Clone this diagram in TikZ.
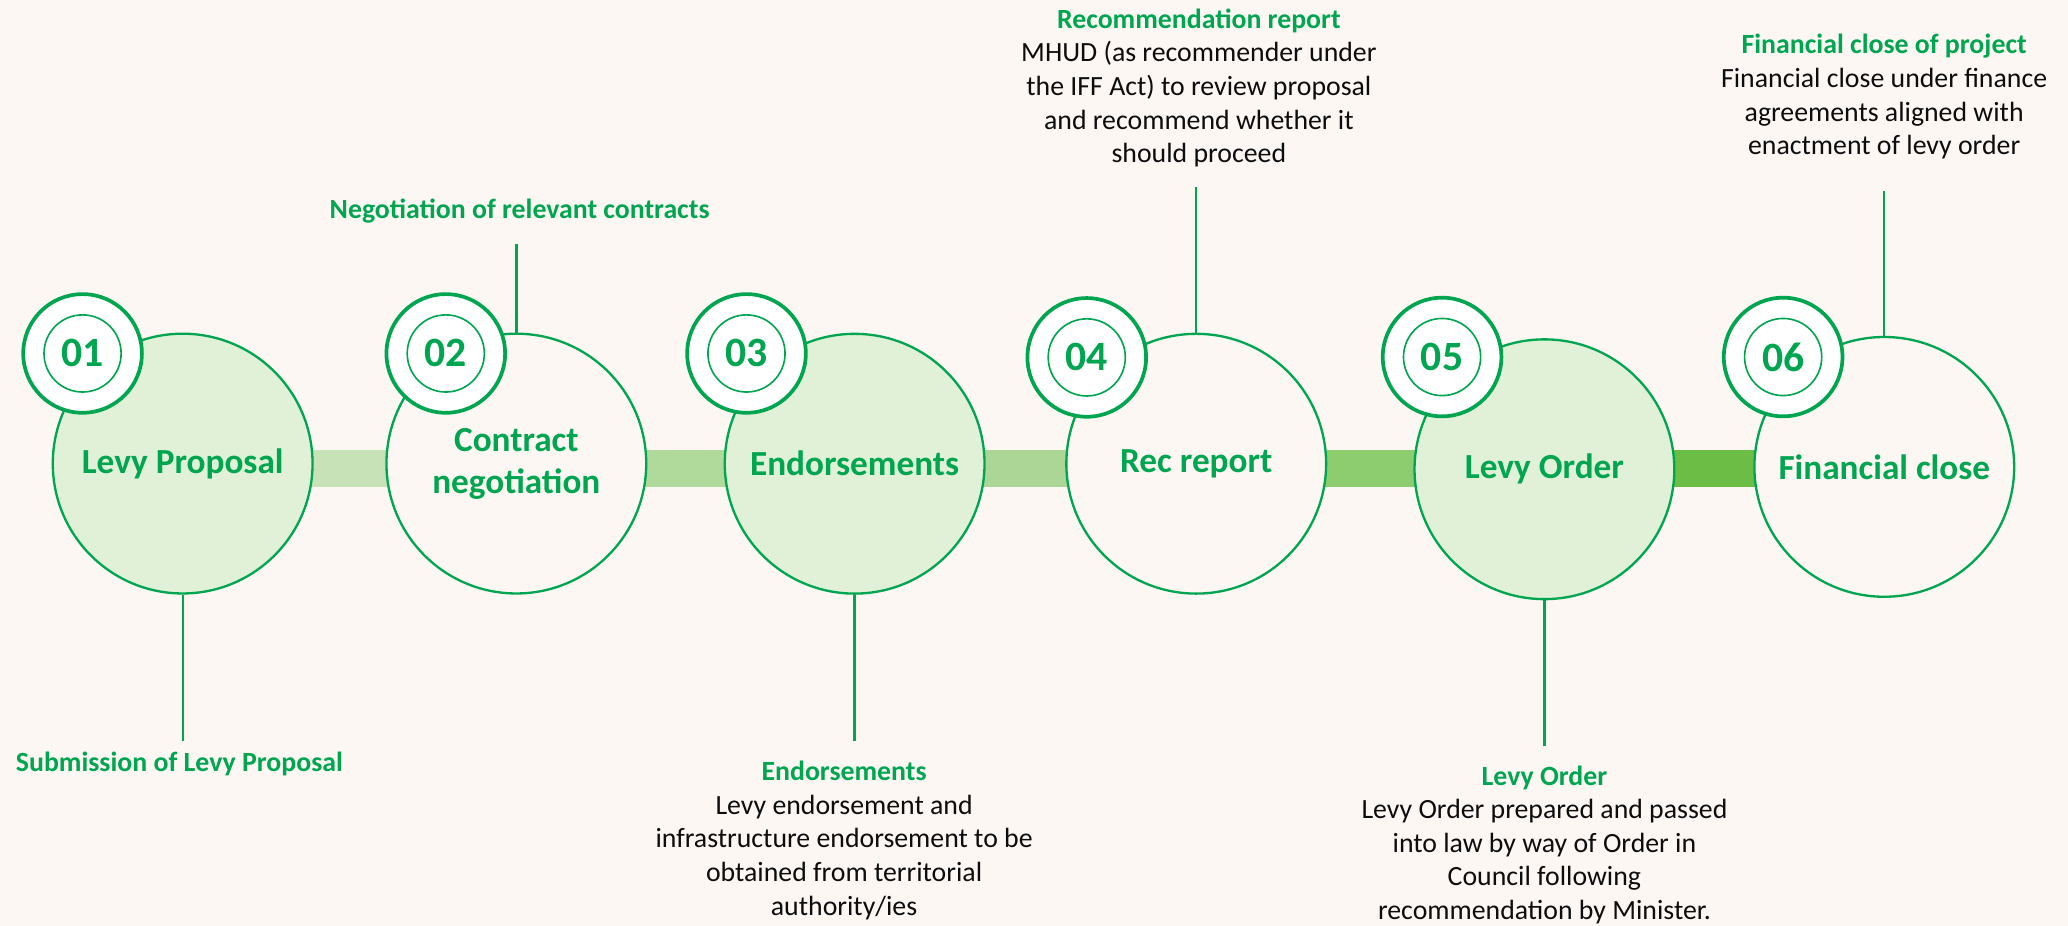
\documentclass[tikz,border=0pt]{standalone}
\usepackage{fontspec}
\setmainfont{Carlito}
\usepackage{xcolor}
\usepackage{tikz}
\usetikzlibrary{backgrounds}
\definecolor{pagecream}{HTML}{FDF7F4}
\definecolor{stagegreen}{HTML}{00A550}
\definecolor{stagefill}{HTML}{E0F1D8}
\definecolor{notetext}{HTML}{0D0D0D}
\definecolor{barA}{HTML}{C6E2B6}
\definecolor{barB}{HTML}{B0D99C}
\definecolor{barC}{HTML}{ABD695}
\definecolor{barD}{HTML}{8ECC70}
\definecolor{barE}{HTML}{6BBD46}
\newcommand{\notehead}[1]{\textcolor{stagegreen}{\bfseries #1}}
\tikzset{
  stage/.style={circle, draw=stagegreen, line width=1pt, minimum size=3.94cm, inner sep=0pt, align=center, text=stagegreen, font=\fontsize{15.2}{18.2}\selectfont\bfseries},
  stagelit/.style={stage, fill=stagefill},
  stageplain/.style={stage, fill=pagecream},
  badge/.style={circle, draw=stagegreen, line width=1.6pt, fill=white, minimum size=1.8cm, inner sep=0pt},
  badgenum/.style={circle, draw=stagegreen, line width=0.7pt, fill=white, minimum size=1.17cm, inner sep=0pt, text=stagegreen, font=\fontsize{18}{18}\selectfont\bfseries},
  leader/.style={draw=stagegreen, line width=1pt},
  bar/.style={line width=0.56cm},
  note/.style={anchor=base, inner sep=0pt, text=notetext, font=\fontsize{12}{14.5}\selectfont},
}

\begin{document}
\begin{tikzpicture}[x=0.02cm, y=-0.02cm]
  \useasboundingbox (0,0) rectangle (1568,702);

  % Stage circles
  \node[stagelit]   (c1) at (138.5,351.5) {Levy Proposal};
  \node[stageplain] (c2) at (391.5,351.5) {Contract\\negotiation};
  \node[stagelit]   (c3) at (648,351.6) {Endorsements};
  \node[stageplain] (c4) at (907,351.6) {Rec report};
  \node[stagelit]   (c5) at (1171,355.8) {Levy Order};
  \node[stageplain] (c6) at (1428.7,354) {Financial close};

  % Number badges
  \node[badge] (b1) at (62.6,268) {};
  \node[badgenum] (n1) at (b1) {01};
  \node[badge] (b2) at (338,268) {};
  \node[badgenum] (n2) at (b2) {02};
  \node[badge] (b3) at (566,268) {};
  \node[badgenum] (n3) at (b3) {03};
  \node[badge] (b4) at (824,271) {};
  \node[badgenum] (n4) at (b4) {04};
  \node[badge] (b5) at (1093.4,270.7) {};
  \node[badgenum] (n5) at (b5) {05};
  \node[badge] (b6) at (1352,270.7) {};
  \node[badgenum] (n6) at (b6) {06};

  % Leader lines
  \coordinate (e1) at (138.5,562);
  \coordinate (e2) at (391.5,185);
  \coordinate (e3) at (648,561.8);
  \coordinate (e4) at (907,141.5);
  \coordinate (e5) at (1171,566);
  \coordinate (e6) at (1428.7,144.6);
  \draw[leader] (c1.south) -- (e1);
  \draw[leader] (c2.north) -- (e2);
  \draw[leader] (c3.south) -- (e3);
  \draw[leader] (c4.north) -- (e4);
  \draw[leader] (c5.south) -- (e5);
  \draw[leader] (c6.north) -- (e6);

  % Stage notes
  \node[note] (t1) at (136,584.8) {\notehead{Submission of Levy Proposal}};
  \node[note] (t2) at (394,165.5) {\notehead{Negotiation of relevant contracts}};
  \node[note] (t3) at (640,592) {\begin{tabular}[t]{@{}c@{}}\notehead{Endorsements}\\
    Levy endorsement and\\ infrastructure endorsement to be\\ obtained from territorial\\ authority/ies\end{tabular}};
  \node[note] (t4) at (909,21.5) {\begin{tabular}[t]{@{}c@{}}\notehead{Recommendation report}\\
    MHUD (as recommender under\\ the IFF Act) to review proposal\\ and recommend whether it\\ should proceed\end{tabular}};
  \node[note] (t5) at (1171,595.2) {\begin{tabular}[t]{@{}c@{}}\notehead{Levy Order}\\
    Levy Order prepared and passed\\ into law by way of Order in\\ Council following\\ recommendation by Minister.\end{tabular}};
  \node[note] (t6) at (1428.6,40.8) {\begin{tabular}[t]{@{}c@{}}\notehead{Financial close of project}\\
    Financial close under finance\\ agreements aligned with\\ enactment of levy order\end{tabular}};

  % Page and connecting bars
  \begin{pgfonlayer}{background}
    \fill[pagecream] (0,0) rectangle (1568,702);
    \coordinate (barrow) at (0,355.5);
    \draw[bar, barA] (c1.center |- barrow) -- (c2.center |- barrow);
    \draw[bar, barB] (c2.center |- barrow) -- (c3.center |- barrow);
    \draw[bar, barC] (c3.center |- barrow) -- (c4.center |- barrow);
    \draw[bar, barD] (c4.center |- barrow) -- (c5.center |- barrow);
    \draw[bar, barE] (c5.center |- barrow) -- (c6.center |- barrow);
  \end{pgfonlayer}
\end{tikzpicture}
\end{document}
